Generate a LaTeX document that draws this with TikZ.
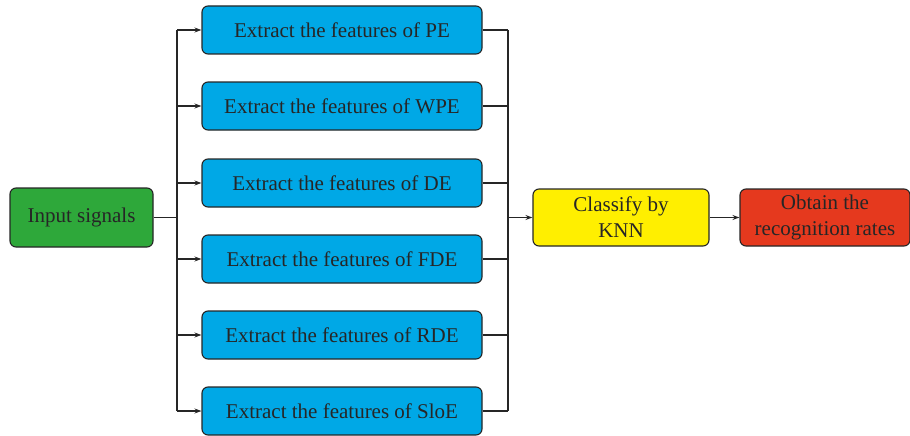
\documentclass[tikz,border=0pt]{standalone}
\usepackage{fontspec}
\setmainfont{Liberation Serif}
\usetikzlibrary{arrows.meta}
\definecolor{boxgreen}{HTML}{2EA83A}
\definecolor{boxblue}{HTML}{00A8E6}
\definecolor{boxyellow}{HTML}{FFEF00}
\definecolor{boxred}{HTML}{E5391E}
\definecolor{edge}{HTML}{262626}
\tikzset{
  box/.style={draw=edge, line width=1.1pt, rounded corners=6pt, align=center,
    font=\fontsize{21}{26}\selectfont, text=edge, inner sep=0pt},
  feat/.style={box, fill=boxblue, minimum width=280pt, minimum height=48pt},
  conn/.style={draw=edge, line width=1.2pt},
  arr/.style={conn, -{Stealth[length=7pt,width=5pt]}}
}
\begin{document}
\begin{tikzpicture}[x=1pt,y=-1pt]
\useasboundingbox (0,0) rectangle (910,436);
\node[box, fill=boxgreen, minimum width=143pt, minimum height=59pt] (in) at (81.5,217.5) {Input signals};
\node[feat] (f1) at (342,30) {Extract the features of PE};
\node[feat] (f2) at (342,106) {Extract the features of WPE};
\node[feat] (f3) at (342,183) {Extract the features of DE};
\node[feat] (f4) at (342,259) {Extract the features of FDE};
\node[feat] (f5) at (342,335) {Extract the features of RDE};
\node[feat] (f6) at (342,411) {Extract the features of SloE};
\node[box, fill=boxyellow, minimum width=176pt, minimum height=57pt] (knn) at (621,217.5) {Classify by\\KNN};
\node[box, fill=boxred, minimum width=170pt, minimum height=57pt] (res) at (825,217.5) {Obtain the\\recognition rates};
\coordinate (tl) at (177,217.5);
\coordinate (tr) at (508,217.5);
\draw[conn] (in.east) -- (tl);
\draw[conn] (tl |- f1.west) -- (tl |- f6.west);
\draw[conn] (tr |- f1.east) -- (tr |- f6.east);
\foreach \i in {1,...,6} {
  \draw[arr] (tl |- f\i.west) -- (f\i.west);
  \draw[conn] (f\i.east) -- (tr |- f\i.east);
}
\draw[arr] (tr) -- (knn.west);
\draw[arr] (knn.east) -- (res.west);
\end{tikzpicture}
\end{document}
